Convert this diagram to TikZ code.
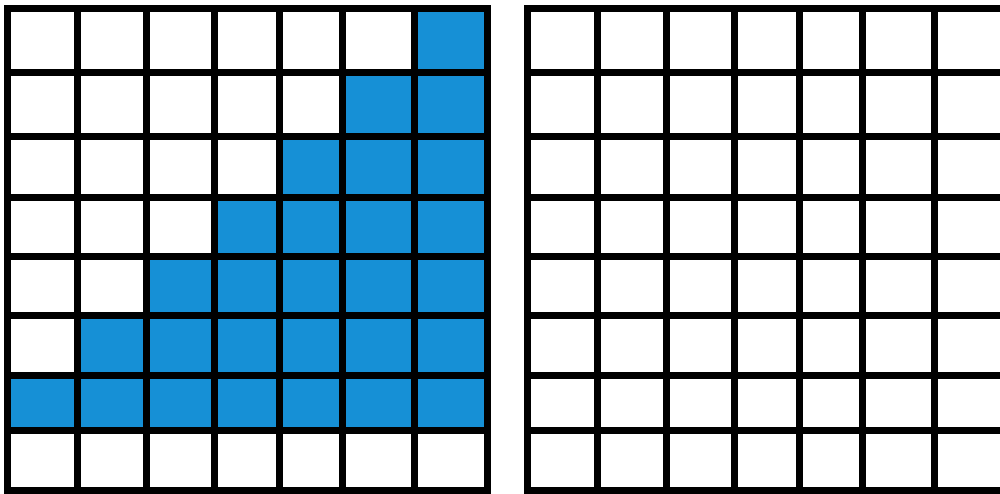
\documentclass[tikz,border=0pt]{standalone}
\definecolor{cellblue}{RGB}{22,144,214}
\tikzset{
  gridline/.style={line width=7pt, black, line cap=rect},
  frameline/.style={line width=7pt, black, line join=miter},
  bluefill/.style={fill=cellblue, draw=none}
}
\begin{document}
\begin{tikzpicture}[x=1pt,y=-1pt]
\useasboundingbox (0,0) rectangle (1000,493);
\clip (0,0) rectangle (1000,493);
\fill[white] (0,0) rectangle (1000,493);
% blue staircase (left grid)
\path[bluefill] (414,8.5) -- (487,8.5) -- (487,430) -- (7.5,430) -- (7.5,375)
  -- (77,375) -- (77,315.5) -- (146,315.5) -- (146,256) -- (214,256)
  -- (214,197.5) -- (279,197.5) -- (279,136.5) -- (342,136.5) -- (342,72.5)
  -- (414,72.5) -- cycle;
% two grids
\foreach \dx in {0,520}{
  \begin{scope}[xshift=\dx pt]
    \foreach \x in {77,146,214,279,342,414}
      \draw[gridline] (\x,8.5) -- (\x,490);
    \foreach \y in {72.5,136.5,197.5,256,315.5,375,430}
      \draw[gridline] (7.5,\y) -- (487,\y);
    \draw[frameline] (7.5,8.5) rectangle (487,490);
  \end{scope}
}
\end{tikzpicture}
\end{document}
